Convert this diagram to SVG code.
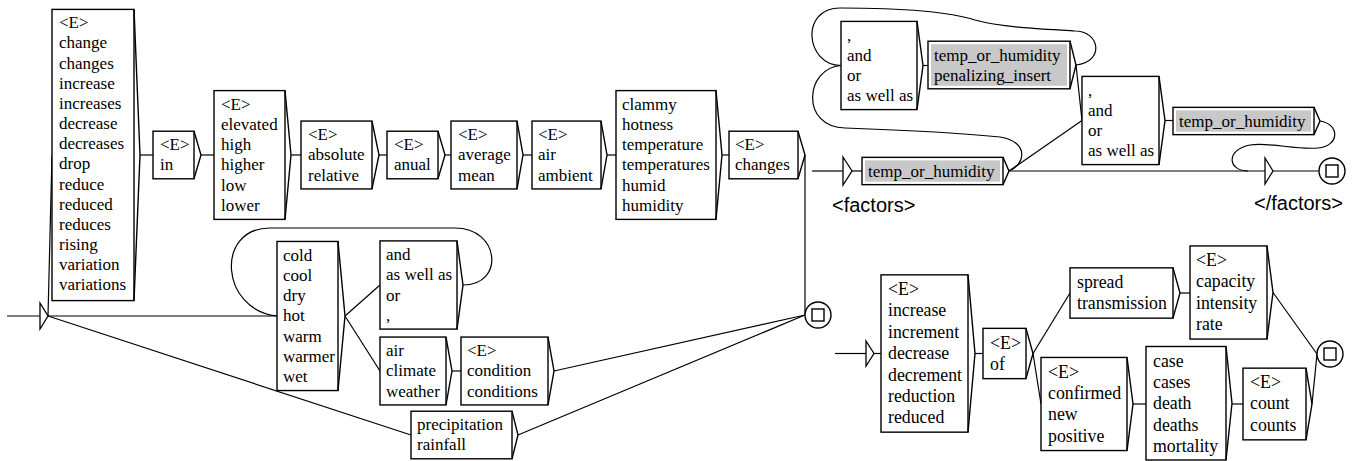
<svg xmlns="http://www.w3.org/2000/svg" width="1354" height="461" viewBox="0 0 1354 461">
<style>
.b{fill:#fff;stroke:#000;stroke-width:1.4}
.g{fill:#c8c8c8;stroke:none}
.p{fill:none;stroke:#000;stroke-width:1.4;stroke-linejoin:miter}
.c{fill:none;stroke:#000;stroke-width:1.2}
.a{fill:#fff;stroke:#000;stroke-width:1.3}
.t{font-family:"Liberation Serif","Times New Roman",serif;font-size:17px;fill:#000}
.t3{font-size:17.8px}
.s{font-family:"Liberation Sans",Arial,sans-serif;font-size:20px;fill:#000}
</style>
<rect width="1354" height="461" fill="#fff"/>
<g id="connectors">
<!-- graph 1 -->
<line class="c" x1="7" y1="316" x2="40" y2="316"/>
<polyline class="c" points="48,316 52,155"/>
<line class="c" x1="48" y1="316" x2="277" y2="316"/>
<line class="c" x1="48" y1="316" x2="411" y2="435"/>
<line class="c" x1="140" y1="155" x2="153" y2="155"/>
<line class="c" x1="201" y1="155" x2="214" y2="155"/>
<line class="c" x1="291" y1="155" x2="301" y2="155"/>
<line class="c" x1="379" y1="155" x2="387" y2="155"/>
<line class="c" x1="445" y1="155" x2="451" y2="155"/>
<line class="c" x1="523" y1="155" x2="532" y2="155"/>
<line class="c" x1="607" y1="155" x2="616" y2="155"/>
<line class="c" x1="722" y1="155" x2="729" y2="155"/>
<line class="c" x1="805" y1="155" x2="805" y2="315"/>
<line class="c" x1="345" y1="316" x2="380" y2="285"/>
<line class="c" x1="345" y1="316" x2="380" y2="371"/>
<path class="c" d="M463,285 C505,285 500,228 455,228 L270,228 C215,228 220,310 277,316"/>
<line class="c" x1="452" y1="371" x2="461" y2="371"/>
<line class="c" x1="554" y1="371" x2="805" y2="315"/>
<line class="c" x1="518" y1="435" x2="805" y2="315"/>
<polygon class="a" points="40,303 48,316 40,329"/>
<!-- graph 2 -->
<line class="c" x1="812" y1="171" x2="843" y2="171"/>
<line class="c" x1="852" y1="171" x2="862" y2="171"/>
<line class="c" x1="923" y1="65.5" x2="928" y2="65.5"/>
<path class="c" d="M1076,65 C1105,62 1100,31 1075,31 C1040,29 1000,27 975,20 C950,12 900,8 840,8 C800,8 805,65 841,65.5"/>
<path class="c" d="M841,65.5 C805,68 800,127 845,128 C900,130 960,133 1000,137 C1030,142 1025,165 1009,171"/>
<line class="c" x1="1076" y1="65" x2="1082" y2="120.5"/>
<line class="c" x1="1009" y1="171" x2="1082" y2="120.5"/>
<line class="c" x1="1009" y1="171" x2="1265" y2="171"/>
<line class="c" x1="1165" y1="120.5" x2="1173" y2="120.5"/>
<path class="c" d="M1320,121 C1340,124 1340,146 1318,148 C1295,150 1270,142 1250,145 C1225,150 1228,171 1248,171"/>
<line class="c" x1="1273" y1="171" x2="1319" y2="171"/>
<polygon class="a" points="843,157 852,171 843,185"/>
<polygon class="a" points="1265,158 1273,171 1265,184"/>
<!-- graph 3 -->
<line class="c" x1="835" y1="353.5" x2="866" y2="353.5"/>
<line class="c" x1="874" y1="353.5" x2="881" y2="353.5"/>
<line class="c" x1="975" y1="353.5" x2="983" y2="353.5"/>
<line class="c" x1="1033" y1="353.5" x2="1070" y2="293"/>
<line class="c" x1="1033" y1="353.5" x2="1041" y2="404"/>
<line class="c" x1="1180" y1="293" x2="1190" y2="293"/>
<line class="c" x1="1273" y1="292.5" x2="1317" y2="354"/>
<line class="c" x1="1133" y1="404" x2="1146" y2="404"/>
<line class="c" x1="1232" y1="404" x2="1243" y2="404"/>
<line class="c" x1="1312" y1="404" x2="1317" y2="354"/>
<polygon class="a" points="866,341 874,353.5 866,366"/>
</g>

<g id="box1">
<rect class="b" x="52" y="9.4" width="82" height="291.2"/>
<polyline class="p" points="134,9.4 140,155 134,300.6"/>
<text class="t" x="59" y="28.3"><tspan x="59">&lt;E&gt;</tspan><tspan x="59" dy="20.15">change</tspan><tspan x="59" dy="20.15">changes</tspan><tspan x="59" dy="20.15">increase</tspan><tspan x="59" dy="20.15">increases</tspan><tspan x="59" dy="20.15">decrease</tspan><tspan x="59" dy="20.15">decreases</tspan><tspan x="59" dy="20.15">drop</tspan><tspan x="59" dy="20.15">reduce</tspan><tspan x="59" dy="20.15">reduced</tspan><tspan x="59" dy="20.15">reduces</tspan><tspan x="59" dy="20.15">rising</tspan><tspan x="59" dy="20.15">variation</tspan><tspan x="59" dy="20.15">variations</tspan></text>
</g>
<g id="box-in">
<rect class="b" x="153" y="131.2" width="41" height="47.6"/>
<polyline class="p" points="194,131.2 201,155 194,178.8"/>
<text class="t" x="160" y="150"><tspan x="160">&lt;E&gt;</tspan><tspan x="160" dy="20.3">in</tspan></text>
</g>
<g id="box-elevated">
<rect class="b" x="214" y="90.6" width="71" height="128.8"/>
<polyline class="p" points="285,90.6 291,155 285,219.4"/>
<text class="t" x="221" y="109.5"><tspan x="221">&lt;E&gt;</tspan><tspan x="221" dy="20.3">elevated</tspan><tspan x="221" dy="20.3">high</tspan><tspan x="221" dy="20.3">higher</tspan><tspan x="221" dy="20.3">low</tspan><tspan x="221" dy="20.3">lower</tspan></text>
</g>
<g id="box-absolute">
<rect class="b" x="301" y="121.05" width="71" height="67.9"/>
<polyline class="p" points="372,121.05 379,155 372,188.95"/>
<text class="t" x="308" y="140"><tspan x="308">&lt;E&gt;</tspan><tspan x="308" dy="20.3">absolute</tspan><tspan x="308" dy="20.3">relative</tspan></text>
</g>
<g id="box-anual">
<rect class="b" x="387" y="131.2" width="51" height="47.6"/>
<polyline class="p" points="438,131.2 445,155 438,178.8"/>
<text class="t" x="394" y="150"><tspan x="394">&lt;E&gt;</tspan><tspan x="394" dy="20.3">anual</tspan></text>
</g>
<g id="box-average">
<rect class="b" x="451" y="121.05" width="66" height="67.9"/>
<polyline class="p" points="517,121.05 523,155 517,188.95"/>
<text class="t" x="458" y="140"><tspan x="458">&lt;E&gt;</tspan><tspan x="458" dy="20.3">average</tspan><tspan x="458" dy="20.3">mean</tspan></text>
</g>
<g id="box-air">
<rect class="b" x="532" y="121.05" width="69" height="67.9"/>
<polyline class="p" points="601,121.05 607,155 601,188.95"/>
<text class="t" x="538" y="140"><tspan x="538">&lt;E&gt;</tspan><tspan x="538" dy="20.3">air</tspan><tspan x="538" dy="20.3">ambient</tspan></text>
</g>
<g id="box-clammy">
<rect class="b" x="616" y="90.6" width="100" height="128.8"/>
<polyline class="p" points="716,90.6 722,155 716,219.4"/>
<text class="t" x="622" y="109.5"><tspan x="622">clammy</tspan><tspan x="622" dy="20.3">hotness</tspan><tspan x="622" dy="20.3">temperature</tspan><tspan x="622" dy="20.3">temperatures</tspan><tspan x="622" dy="20.3">humid</tspan><tspan x="622" dy="20.3">humidity</tspan></text>
</g>
<g id="box-changes">
<rect class="b" x="729" y="131.2" width="69" height="47.6"/>
<polyline class="p" points="798,131.2 805,155 798,178.8"/>
<text class="t" x="735" y="150"><tspan x="735">&lt;E&gt;</tspan><tspan x="735" dy="20.3">changes</tspan></text>
</g>
<g id="box-cold">
<rect class="b" x="277" y="241.45" width="61" height="149.1"/>
<polyline class="p" points="338,241.45 345,316 338,390.55"/>
<text class="t" x="283" y="260.5"><tspan x="283">cold</tspan><tspan x="283" dy="20.3">cool</tspan><tspan x="283" dy="20.3">dry</tspan><tspan x="283" dy="20.3">hot</tspan><tspan x="283" dy="20.3">warm</tspan><tspan x="283" dy="20.3">warmer</tspan><tspan x="283" dy="20.3">wet</tspan></text>
</g>
<g id="box-and">
<rect class="b" x="380" y="240.9" width="77" height="88.2"/>
<polyline class="p" points="457,240.9 463,285 457,329.1"/>
<text class="t" x="386" y="260"><tspan x="386">and</tspan><tspan x="386" dy="20.3">as well as</tspan><tspan x="386" dy="20.3">or</tspan><tspan x="386" dy="20.3">,</tspan></text>
</g>
<g id="box-climate">
<rect class="b" x="380" y="337.05" width="66" height="67.9"/>
<polyline class="p" points="446,337.05 452,371 446,404.95"/>
<text class="t" x="386" y="356"><tspan x="386">air</tspan><tspan x="386" dy="20.3">climate</tspan><tspan x="386" dy="20.3">weather</tspan></text>
</g>
<g id="box-condition">
<rect class="b" x="461" y="337.05" width="87" height="67.9"/>
<polyline class="p" points="548,337.05 554,371 548,404.95"/>
<text class="t" x="467" y="356"><tspan x="467">&lt;E&gt;</tspan><tspan x="467" dy="20.3">condition</tspan><tspan x="467" dy="20.3">conditions</tspan></text>
</g>
<g id="box-precipitation">
<rect class="b" x="411" y="411.2" width="101" height="47.6"/>
<polyline class="p" points="512,411.2 518,435 512,458.8"/>
<text class="t" x="417" y="430"><tspan x="417">precipitation</tspan><tspan x="417" dy="20.3">rainfall</tspan></text>
</g>
<g id="final1">
<circle class="b" cx="818" cy="315" r="13"/>
<rect class="b" x="812" y="309" width="12" height="12"/>
</g>

<g id="factors-temp1">
<rect class="b" x="862" y="157.35" width="141" height="27.3"/>
<rect class="g" x="865" y="160.35" width="135" height="21.3"/>
<polyline class="p" points="1003,157.35 1009,171 1003,184.65"/>
<text class="t" x="868" y="176.5">temp_or_humidity</text>
</g>
<g id="factors-sep1">
<rect class="b" x="841" y="21.4" width="76" height="88.2"/>
<polyline class="p" points="917,21.4 923,65.5 917,109.6"/>
<text class="t" x="847" y="40.5"><tspan x="847">,</tspan><tspan x="847" dy="20.3">and</tspan><tspan x="847" dy="20.3">or</tspan><tspan x="847" dy="20.3">as well as</tspan></text>
</g>
<g id="factors-temp2">
<rect class="b" x="928" y="41.2" width="142" height="47.6"/>
<rect class="g" x="931" y="44.2" width="136" height="41.6"/>
<polyline class="p" points="1070,41.2 1076,65 1070,88.8"/>
<text class="t" x="934" y="61"><tspan x="934">temp_or_humidity</tspan><tspan x="934" dy="20.3">penalizing_insert</tspan></text>
</g>
<g id="factors-sep2">
<rect class="b" x="1082" y="76.4" width="77" height="88.2"/>
<polyline class="p" points="1159,76.4 1165,120.5 1159,164.6"/>
<text class="t" x="1088" y="95.5"><tspan x="1088">,</tspan><tspan x="1088" dy="20.3">and</tspan><tspan x="1088" dy="20.3">or</tspan><tspan x="1088" dy="20.3">as well as</tspan></text>
</g>
<g id="factors-temp3">
<rect class="b" x="1173" y="107.35" width="141" height="27.3"/>
<rect class="g" x="1176" y="110.35" width="135" height="21.3"/>
<polyline class="p" points="1314,107.35 1320,121 1314,134.65"/>
<text class="t" x="1179" y="126.5">temp_or_humidity</text>
</g>
<g id="final2">
<circle class="b" cx="1332" cy="171" r="13"/>
<rect class="b" x="1326" y="165" width="12" height="12"/>
</g>
<g id="labels">
<text class="s" x="832" y="212">&lt;factors&gt;</text>
<text class="s" x="1254" y="210">&lt;/factors&gt;</text>
</g>

<g id="box-increase">
<rect class="b" x="881" y="274.85" width="87" height="157.3"/>
<polyline class="p" points="968,274.85 975,353.5 968,432.15"/>
<text class="t t3" x="888" y="295"><tspan x="888">&lt;E&gt;</tspan><tspan x="888" dy="21.4">increase</tspan><tspan x="888" dy="21.4">increment</tspan><tspan x="888" dy="21.4">decrease</tspan><tspan x="888" dy="21.4">decrement</tspan><tspan x="888" dy="21.4">reduction</tspan><tspan x="888" dy="21.4">reduced</tspan></text>
</g>
<g id="box-of">
<rect class="b" x="983" y="328.35" width="43" height="50.3"/>
<polyline class="p" points="1026,328.35 1033,353.5 1026,378.65"/>
<text class="t t3" x="990" y="349"><tspan x="990">&lt;E&gt;</tspan><tspan x="990" dy="21.4">of</tspan></text>
</g>
<g id="box-spread">
<rect class="b" x="1070" y="267.85" width="103" height="50.3"/>
<polyline class="p" points="1173,267.85 1180,293 1173,318.15"/>
<text class="t t3" x="1077" y="288"><tspan x="1077">spread</tspan><tspan x="1077" dy="21.4">transmission</tspan></text>
</g>
<g id="box-capacity">
<rect class="b" x="1190" y="245.95" width="77" height="93.1"/>
<polyline class="p" points="1267,245.95 1273,292.5 1267,339.05"/>
<text class="t t3" x="1196" y="266"><tspan x="1196">&lt;E&gt;</tspan><tspan x="1196" dy="21.4">capacity</tspan><tspan x="1196" dy="21.4">intensity</tspan><tspan x="1196" dy="21.4">rate</tspan></text>
</g>
<g id="box-confirmed">
<rect class="b" x="1041" y="357.45" width="86" height="93.1"/>
<polyline class="p" points="1127,357.45 1133,404 1127,450.55"/>
<text class="t t3" x="1048" y="377.5"><tspan x="1048">&lt;E&gt;</tspan><tspan x="1048" dy="21.4">confirmed</tspan><tspan x="1048" dy="21.4">new</tspan><tspan x="1048" dy="21.4">positive</tspan></text>
</g>
<g id="box-case">
<rect class="b" x="1146" y="346.5" width="80" height="113.5"/>
<polyline class="p" points="1226,346.5 1232,403.25 1226,460"/>
<text class="t t3" x="1153" y="366.5"><tspan x="1153">case</tspan><tspan x="1153" dy="21.4">cases</tspan><tspan x="1153" dy="21.4">death</tspan><tspan x="1153" dy="21.4">deaths</tspan><tspan x="1153" dy="21.4">mortality</tspan></text>
</g>
<g id="box-count">
<rect class="b" x="1243" y="368.15" width="63" height="71.7"/>
<polyline class="p" points="1306,368.15 1312,404 1306,439.85"/>
<text class="t t3" x="1250" y="388"><tspan x="1250">&lt;E&gt;</tspan><tspan x="1250" dy="21.4">count</tspan><tspan x="1250" dy="21.4">counts</tspan></text>
</g>
<g id="final3">
<circle class="b" cx="1330" cy="354" r="13"/>
<rect class="b" x="1324" y="348" width="12" height="12"/>
</g>
</svg>
